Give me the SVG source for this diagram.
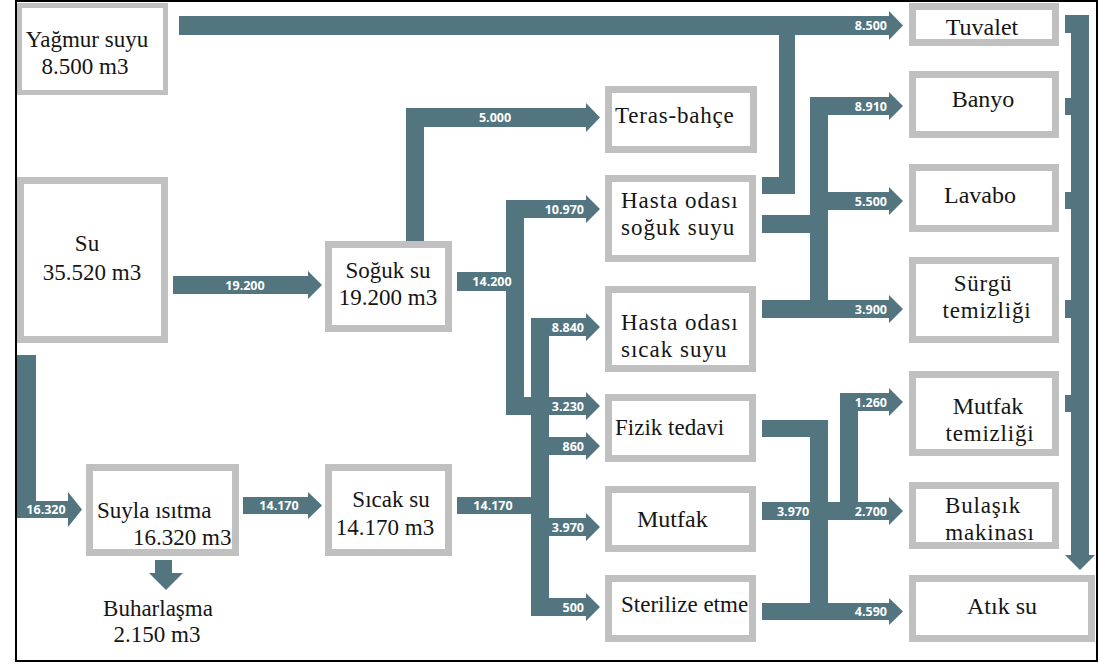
<svg xmlns="http://www.w3.org/2000/svg" width="1099" height="665" viewBox="0 0 1099 665">
<style>
.box{fill:#fff;stroke:#c0c0c0;stroke-width:7}
.t{font-family:'Liberation Serif','DejaVu Serif',serif;font-size:23px;fill:#151515}
.c{text-anchor:middle}
.f{fill:#527580}
.l{font-family:'Open Sans','Liberation Sans',sans-serif;font-size:12.5px;font-weight:700;fill:#fff}
.e{text-anchor:end}
</style>
<rect x="0" y="0" width="1099" height="665" fill="#fff"/>
<rect x="16" y="1" width="1081" height="660" fill="none" stroke="#000" stroke-width="2"/>

<g id="connectors" class="f">
  <path d="M179,16 H889 V11 L903,25.5 L889,40 V35 H795 V194 H762 V177 H779 V35 H179 Z"/>
  <path d="M810,97 H889 V92 L903,106 L889,120 V115 H828 V192 H889 V187 L903,201 L889,215 V210 H828 V300 H889 V295 L903,309 L889,323 V318 H762 V300 H810 V233 H762 V215 H810 Z"/>
  <path d="M406,241 V108 H586 V103 L600,117.5 L586,132 V127 H424 V241 Z"/>
  <path d="M173,276 H308 V271 L322,285 L308,299 V294 H173 Z"/>
  <path d="M457,272 H506 V200 H586 V195 L600,209 L586,223 V218 H524 V397 H586 V392 L600,406 L586,420 V415 H506 V291 H457 Z"/>
  <path d="M457,497 H531 V318 H586 V313 L600,327 L586,341 V336 H549 V437 H586 V432 L600,446 L586,460 V455 H549 V518 H586 V513 L600,527 L586,541 V536 H549 V598 H586 V593 L600,607 L586,621 V616 H531 V514 H457 Z"/>
  <path d="M17,355 H36 V501 H68 V492 L82,509.5 L68,527 V518 H17 Z"/>
  <path d="M243,497 H308 V492 L322,505.5 L308,519 V514 H243 Z"/>
  <path d="M155,560 H172 V573 H183 L166,590 L149,573 H155 Z"/>
  <path d="M762,420 H828 V603 H889 V598 L903,611.5 L889,625 V620 H762 V603 H810 V437 H762 Z"/>
  <path d="M840,393 H889 V388 L903,402 L889,416 V411 H858 V502 H889 V497 L903,511 L889,525 V520 H762 V502 H840 Z"/>
  <path d="M1071,15 H1089 V555 H1095 L1080,570 L1065,555 H1071 Z"/>
  <rect x="1065" y="15" width="8" height="18"/>
  <rect x="1065" y="98" width="8" height="17"/>
  <rect x="1065" y="192" width="8" height="17"/>
  <rect x="1065" y="300" width="8" height="18"/>
  <rect x="1065" y="395" width="8" height="17"/>
</g>

<g id="flow-labels">
  <text class="l e" x="887" y="30">8.500</text>
  <text class="l e" x="887" y="110.5">8.910</text>
  <text class="l e" x="887" y="205.5">5.500</text>
  <text class="l e" x="887" y="313.5">3.900</text>
  <text class="l e" x="887" y="406.5">1.260</text>
  <text class="l e" x="887" y="515.5">2.700</text>
  <text class="l e" x="887" y="616">4.590</text>
  <text class="l c" x="793" y="515.5">3.970</text>
  <text class="l c" x="495" y="122">5.000</text>
  <text class="l c" x="245" y="289.5">19.200</text>
  <text class="l c" x="492" y="286">14.200</text>
  <text class="l e" x="584" y="213.5">10.970</text>
  <text class="l e" x="584" y="331.5">8.840</text>
  <text class="l e" x="584" y="410.5">3.230</text>
  <text class="l e" x="584" y="450.5">860</text>
  <text class="l e" x="584" y="531.5">3.970</text>
  <text class="l e" x="584" y="611.5">500</text>
  <text class="l c" x="493" y="510">14.170</text>
  <text class="l c" x="46" y="514">16.320</text>
  <text class="l c" x="279" y="510">14.170</text>
</g>

<g font-family="Liberation Serif, DejaVu Serif, serif">
<g id="yagmur"><rect class="box" x="19.5" y="5.5" width="146" height="87" style="stroke-width:5"/>
  <text class="t c" x="87" y="47">Yağmur suyu</text><text class="t c" x="85" y="74">8.500 m3</text></g>
<g id="su"><rect class="box" x="20.5" y="180.5" width="144" height="159"/>
  <text class="t c" x="87" y="251">Su</text><text class="t c" x="92" y="280">35.520 m3</text></g>
<g id="suyla"><rect class="box" x="89.5" y="467.5" width="146" height="85"/>
  <text class="t" x="97" y="518">Suyla ısıtma</text><text class="t" x="133" y="545">16.320 m3</text></g>
<g id="buharlasma">
  <text class="t c" x="158" y="616">Buharlaşma</text><text class="t c" x="157" y="642">2.150 m3</text></g>
<g id="soguk"><rect class="box" x="328.5" y="244.5" width="120" height="84"/>
  <text class="t c" x="388" y="278">Soğuk su</text><text class="t c" x="388" y="305">19.200 m3</text></g>
<g id="sicak"><rect class="box" x="328.5" y="467.5" width="120" height="85"/>
  <text class="t c" x="391" y="507">Sıcak su</text><text class="t c" x="385" y="535">14.170 m3</text></g>
<g id="teras"><rect class="box" x="608.5" y="89.5" width="145" height="60"/>
  <text class="t" x="615" y="123" style="letter-spacing:0.8px">Teras-bahçe</text></g>
<g id="hasta-soguk"><rect class="box" x="608.5" y="178.5" width="144" height="80"/>
  <text class="t" x="621" y="208" style="letter-spacing:1px">Hasta odası</text><text class="t" x="621" y="235" style="letter-spacing:1px">soğuk suyu</text></g>
<g id="hasta-sicak"><rect class="box" x="608.5" y="289.5" width="144" height="79"/>
  <text class="t" x="621" y="330" style="letter-spacing:1px">Hasta odası</text><text class="t" x="621" y="357" style="letter-spacing:1px">sıcak suyu</text></g>
<g id="fizik"><rect class="box" x="608.5" y="397.5" width="144" height="61"/>
  <text class="t" x="615" y="435">Fizik tedavi</text></g>
<g id="mutfak"><rect class="box" x="608.5" y="489.5" width="144" height="59"/>
  <text class="t" x="637" y="527" style="font-size:24px">Mutfak</text></g>
<g id="sterilize"><rect class="box" x="608.5" y="578.5" width="144" height="60"/>
  <text class="t" x="621" y="612">Sterilize etme</text></g>
<g id="tuvalet"><rect class="box" x="912.5" y="6.5" width="143" height="36"/>
  <text class="t c" x="982" y="35" style="font-size:24px">Tuvalet</text></g>
<g id="banyo"><rect class="box" x="912.5" y="74.5" width="143" height="60"/>
  <text class="t c" x="983" y="107" style="font-size:24px">Banyo</text></g>
<g id="lavabo"><rect class="box" x="912.5" y="167.5" width="143" height="61"/>
  <text class="t c" x="980" y="203" style="font-size:24px">Lavabo</text></g>
<g id="surgu"><rect class="box" x="912.5" y="260.5" width="143" height="79"/>
  <text class="t c" x="983" y="291" style="letter-spacing:0.8px">Sürgü</text><text class="t c" x="987" y="318" style="letter-spacing:0.8px">temizliği</text></g>
<g id="mutfak-temizligi"><rect class="box" x="912.5" y="374.5" width="143" height="78"/>
  <text class="t c" x="988" y="414" style="font-size:24px">Mutfak</text><text class="t c" x="990" y="441" style="letter-spacing:0.8px">temizliği</text></g>
<g id="bulasik"><rect class="box" x="912.5" y="485.5" width="143" height="60"/>
  <text class="t c" x="983" y="513" style="letter-spacing:0.8px">Bulaşık</text><text class="t c" x="990" y="540" style="letter-spacing:0.8px">makinası</text></g>
<g id="atik"><rect class="box" x="912.5" y="578.5" width="179" height="60"/>
  <text class="t c" x="1002" y="614" style="font-size:24px">Atık su</text></g>
</g>
</svg>
